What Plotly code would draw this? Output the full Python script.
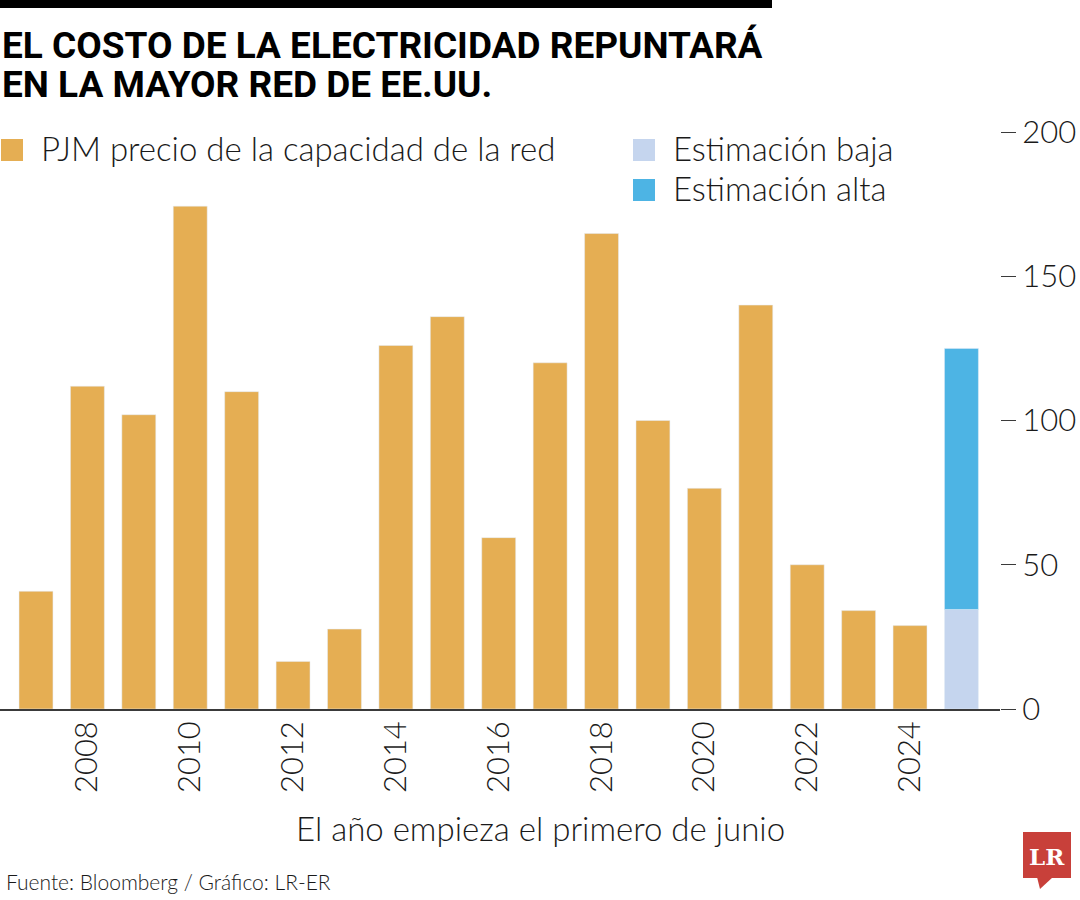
import plotly.graph_objects as go

# ---- data ----
years = list(range(2007, 2025))
pjm_price = [40.8, 111.9, 102.0, 174.3, 110.0, 16.5, 27.7, 126.0, 136.0,
             59.4, 120.0, 164.8, 100.0, 76.5, 140.0, 50.0, 34.1, 28.9]
est_years = [2025]
est_low = [34.5]
est_high = [125.0]
x_tick_vals = list(range(2008, 2025, 2))
y_tick_vals = [0, 50, 100, 150, 200]

# ---- styling ----
C_PJM = "#E5AE53"
C_LOW = "#C5D5EE"
C_HIGH = "#4DB4E4"
C_AX = "#3a3a3a"
LIGHT = dict(family="Lato, 'Open Sans', sans-serif", weight=300, color="#1a1a1a")

W, H = 1080, 900
ML, MR, MT, MB = 0, 80, 132, 191
PW, PH = W - ML - MR, H - MT - MB


def px(x):
    return (x - ML) / PW


def py(y):
    return (H - MB - y) / PH


fig = go.Figure()
fig.add_trace(go.Bar(x=years, y=pjm_price, marker_color=C_PJM, width=0.66,
                     name="PJM precio de la capacidad de la red", showlegend=False))
fig.add_trace(go.Bar(x=est_years, y=est_low, marker_color=C_LOW, width=0.66,
                     name="Estimación baja", showlegend=False))
fig.add_trace(go.Bar(x=est_years, y=[h - l for h, l in zip(est_high, est_low)],
                     base=est_low, marker_color=C_HIGH, width=0.66,
                     name="Estimación alta", showlegend=False))

shapes = []
annotations = []

# top black rule
shapes.append(dict(type="rect", xref="paper", yref="paper", x0=px(0), x1=px(772),
                   y0=py(0), y1=py(8), fillcolor="#000", line_width=0, layer="above"))

# title
TITLE_FONT = dict(family="Roboto, sans-serif", size=37, weight=700, color="#000")
annotations.append(dict(text="EL COSTO DE LA ELECTRICIDAD REPUNTARÁ", xref="paper", yref="paper",
                        x=px(0), y=py(46), xanchor="left", yanchor="middle", showarrow=False,
                        font=TITLE_FONT))
annotations.append(dict(text="EN LA MAYOR RED DE EE.UU.", xref="paper", yref="paper",
                        x=px(0), y=py(84), xanchor="left", yanchor="middle", showarrow=False,
                        font=TITLE_FONT))

# legend (manual)
legend_items = [("PJM precio de la capacidad de la red", C_PJM, 1, 139),
                ("Estimación baja", C_LOW, 633, 139),
                ("Estimación alta", C_HIGH, 633, 179)]
for label, col, x0, y0 in legend_items:
    shapes.append(dict(type="rect", xref="paper", yref="paper", x0=px(x0), x1=px(x0 + 22),
                       y0=py(y0), y1=py(y0 + 22), fillcolor=col, line_width=0))
    annotations.append(dict(text=label, xref="paper", yref="paper", x=px(x0 + 38), y=py(y0 + 9),
                            xanchor="left", yanchor="middle", showarrow=False,
                            font=dict(LIGHT, size=33)))

# x axis title
annotations.append(dict(text="El año empieza el primero de junio", xref="paper", yref="paper",
                        x=px(540), y=py(828), xanchor="center", yanchor="middle", showarrow=False,
                        font=dict(LIGHT, size=33)))
# source
annotations.append(dict(text="Fuente: Bloomberg / Gráfico: LR-ER", xref="paper", yref="paper",
                        x=px(4), y=py(881), xanchor="left", yanchor="middle", showarrow=False,
                        font=dict(LIGHT, size=21)))

# LR logo
shapes.append(dict(type="rect", xref="paper", yref="paper", x0=px(1023), x1=px(1071),
                   y0=py(832), y1=py(878), fillcolor="#C8403A", line_width=0))
shapes.append(dict(type="path", xref="paper", yref="paper",
                   path=f"M {px(1037)} {py(877)} L {px(1040)} {py(889)} L {px(1053)} {py(877)} Z",
                   fillcolor="#C8403A", line_width=0))
annotations.append(dict(text="<b>LR</b>", xref="paper", yref="paper", x=px(1047), y=py(856),
                        xanchor="center", yanchor="middle", showarrow=False,
                        font=dict(family="'DejaVu Serif', 'Liberation Serif', serif", size=23, color="#fff")))

fig.update_layout(
    width=W, height=H,
    margin=dict(l=ML, r=MR, t=MT, b=MB, pad=0),
    paper_bgcolor="#fff", plot_bgcolor="#fff",
    barmode="overlay",
    showlegend=False,
    shapes=shapes,
    annotations=annotations,
    xaxis=dict(range=[2006.30, 2025.75], tickmode="array", tickvals=x_tick_vals,
               ticktext=[str(v) for v in x_tick_vals], tickangle=-90, ticks="",
               ticklabelstandoff=-2,
               showline=True, linecolor=C_AX, linewidth=1.5, showgrid=False, zeroline=False,
               tickfont=dict(LIGHT, size=31)),
    yaxis=dict(range=[0, 200], side="right", tickmode="array", tickvals=y_tick_vals,
               ticks="outside", ticklen=15, tickwidth=1.3, tickcolor=C_AX,
               ticklabelstandoff=0,
               showline=False, showgrid=False, zeroline=False,
               tickfont=dict(LIGHT, size=31)),
)

fig.write_html("out.html", config={"displayModeBar": False},
               post_script="document.body.style.margin='0';document.body.style.overflow='hidden';")
